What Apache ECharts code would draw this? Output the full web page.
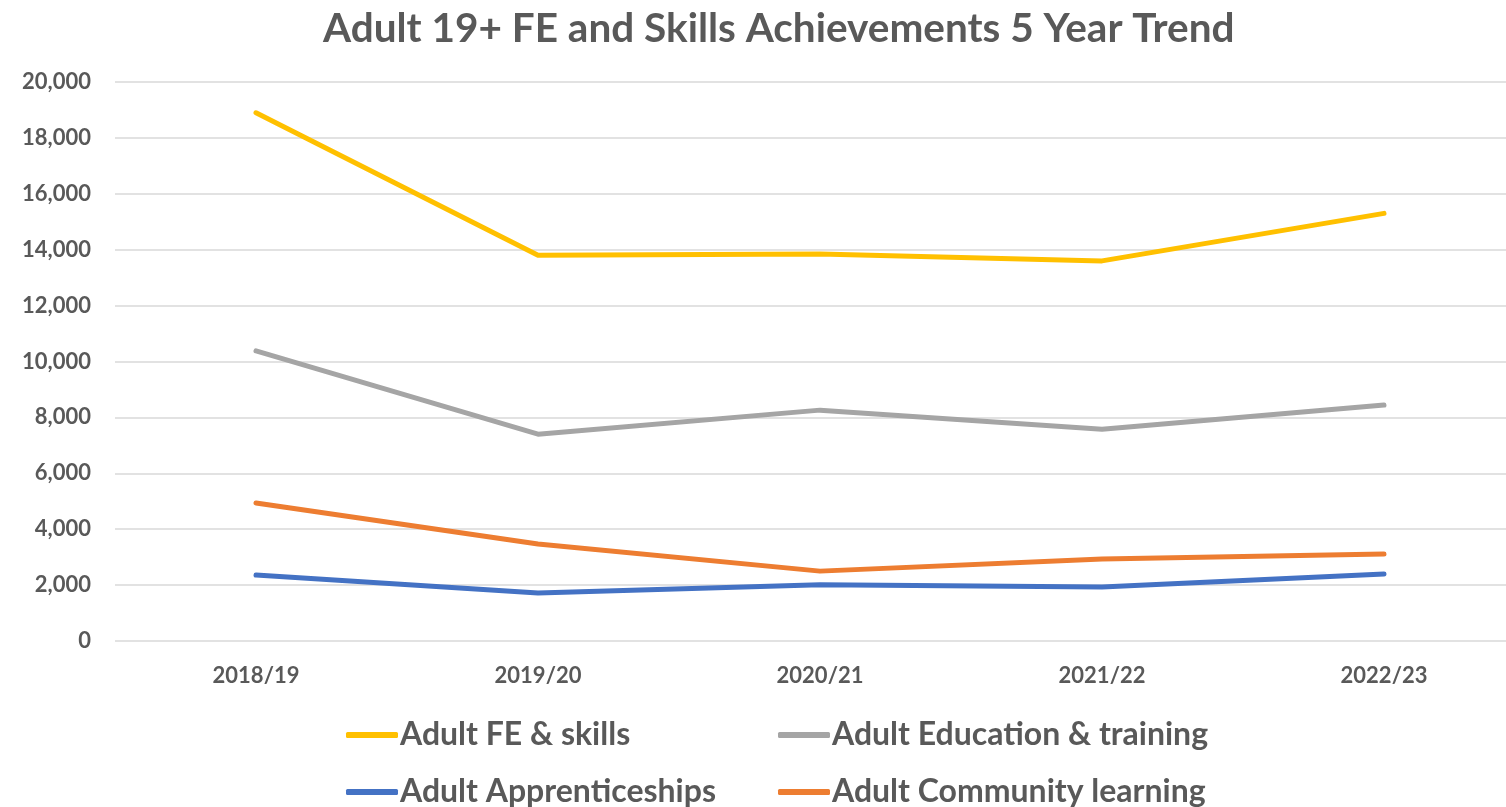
<!DOCTYPE html>
<html>
<head>
<meta charset="utf-8">
<script src="https://cdn.jsdelivr.net/npm/echarts@6/dist/echarts.min.js"></script>
<style>
  html, body { margin: 0; padding: 0; background: #fff; }
  #chart { width: 1506px; height: 807px; }
</style>
</head>
<body>
<div id="chart"></div>
<script>
// Academic years on the category axis
const years = ['2018/19', '2019/20', '2020/21', '2021/22', '2022/23'];

// Achievements per year for each provision type
const feSkills = [18900, 13800, 13850, 13600, 15300];
const educationTraining = [10380, 7400, 8260, 7580, 8440];
const apprenticeships = [2360, 1720, 2010, 1930, 2400];
const communityLearning = [4940, 3470, 2500, 2930, 3110];

const FONT = 'Lato, "Open Sans", sans-serif';
const TEXT = '#595959';

const seriesDefs = [
  { name: 'Adult FE & skills', data: feSkills, color: '#FFC000' },
  { name: 'Adult Education & training', data: educationTraining, color: '#A5A5A5' },
  { name: 'Adult Apprenticeships', data: apprenticeships, color: '#4472C4' },
  { name: 'Adult Community learning', data: communityLearning, color: '#ED7D31' }
];

const legendPos = [
  { left: 346, top: 719 },
  { left: 778, top: 719 },
  { left: 346, top: 776 },
  { left: 778, top: 776 }
];

const chart = echarts.init(document.getElementById('chart'), null, { renderer: 'canvas' });

chart.setOption({
  animation: false,
  backgroundColor: '#ffffff',
  title: {
    text: 'Adult 19+ FE and Skills Achievements 5 Year Trend',
    left: 318,
    top: 3,
    textStyle: { fontFamily: FONT, fontWeight: 'bold', fontSize: 40.5, color: TEXT }
  },
  legend: seriesDefs.map((s, i) => ({
    data: [s.name],
    left: legendPos[i].left,
    top: legendPos[i].top,
    icon: 'roundRect',
    itemWidth: 52,
    itemHeight: 6,
    itemGap: 0,
    padding: 0,
    textStyle: { fontFamily: FONT, fontWeight: 'bold', fontSize: 32, color: TEXT, padding: [0, 0, 0, -3] }
  })),
  // plot area runs past the right edge of the canvas
  grid: { left: 115, top: 82, right: -19, bottom: 166, containLabel: false, outerBoundsMode: 'none' },
  xAxis: {
    type: 'category',
    data: years,
    boundaryGap: true,
    axisLine: { show: false },
    axisTick: { show: false },
    axisLabel: { margin: 24, fontFamily: FONT, fontWeight: 'bold', fontSize: 22, color: TEXT }
  },
  yAxis: {
    type: 'value',
    min: 0,
    max: 20000,
    interval: 2000,
    axisLine: { show: false },
    axisTick: { show: false },
    axisLabel: {
      margin: 24,
      fontFamily: FONT, fontWeight: 'bold', fontSize: 22, color: TEXT,
      formatter: v => v.toLocaleString('en-GB')
    },
    splitLine: { lineStyle: { color: '#D9D9D9', width: 1.5 } }
  },
  series: seriesDefs.map(s => ({
    name: s.name,
    type: 'line',
    data: s.data,
    color: s.color,
    symbol: 'none',
    lineStyle: { width: 5, color: s.color, cap: 'round', join: 'round' }
  }))
});
</script>
</body>
</html>
